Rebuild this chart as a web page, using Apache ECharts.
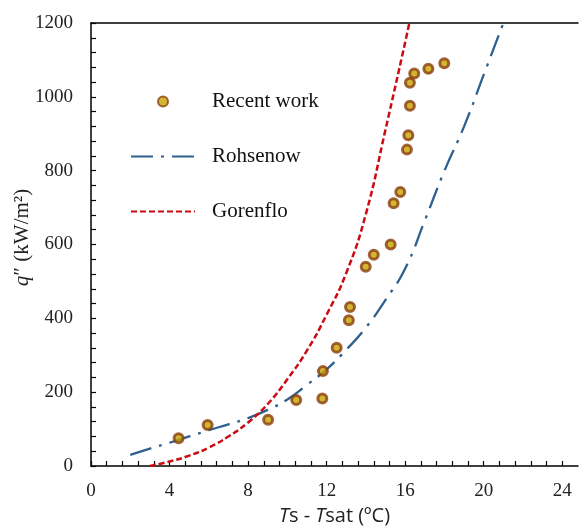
<!DOCTYPE html>
<html>
<head>
<meta charset="utf-8">
<script src="https://cdn.jsdelivr.net/npm/echarts@6/dist/echarts.min.js"></script>
<style>
html, body { margin: 0; padding: 0; background: #fff; }
#boiling-chart { width: 580px; height: 527px; }
</style>
</head>
<body>
<div id="boiling-chart"></div>
<script>
// measured points (Ts - Tsat, q'')
var recentX = [4.46, 5.94, 9.02, 10.45, 11.78, 11.81, 12.51, 13.13, 13.19, 13.99, 14.40, 15.26, 15.41, 15.75, 16.09, 16.16, 16.24, 16.24, 16.46, 17.18, 17.99];
var recentY = [75, 111, 125, 179, 183, 257, 320, 395, 431, 540, 572, 600, 712, 742, 857, 896, 976, 1038, 1063, 1076, 1091];

// correlations
var rohsenowX = [2, 3, 4, 5, 6, 7, 8, 9, 10, 11, 12, 13, 14, 15, 16, 17, 18, 19, 20, 21];
var rohsenowY = [30, 47, 63, 80, 97, 113, 130, 152, 180, 220, 262, 315, 375, 450, 535, 665, 800, 920, 1060, 1200];

var gorenfloX = [3, 4, 5, 6, 7, 8, 9, 10, 11, 12, 13, 14, 15, 16, 16.21];
var gorenfloY = [0, 12, 28, 50, 80, 118, 168, 235, 313, 410, 523, 683, 912, 1148, 1200];

var xLabelStep = 4;
var yLabelStep = 200;

function pairs(xs, ys){
	var out = [];
	xs.forEach(function(x, i){
		out.push([x, ys[i]]);
	});
	return out;
}

function onStep(v, step){
	return Math.abs(v / step - Math.round(v / step)) < 1e-6;
}

var chart = echarts.init(document.getElementById('boiling-chart'));

var serif = 'Liberation Serif';
var blue = '#2E6090';
var red = '#CC0A12';

option = {
	animation: false,
	grid: {
		left: 91,
		right: 2,
		top: 23,
		bottom: 61,
		outerBoundsMode: 'none'
	},
	legend: {
		left: 125,
		top: 86,
		orient: 'vertical',
		itemWidth: 64,
		itemHeight: 10,
		itemGap: 34,
		textStyle: {
			fontFamily: serif,
			fontSize: 21,
			color: '#111',
			padding: [0, 0, 0, 12]
		},
		data: [
			{ name: 'Recent work' },
			{ name: 'Rohsenow', itemStyle: { opacity: 0 } },
			{ name: 'Gorenflo', itemStyle: { opacity: 0 } }
		]
	},
	xAxis: [
		{
			type: 'value',
			min: 0,
			max: 24.8,
			interval: 0.8,
			splitLine: { show: false },
			axisLine: { lineStyle: { color: '#000', width: 1.5 } },
			axisTick: { inside: true, length: 5, lineStyle: { color: '#000', width: 1.2 } },
			axisLabel: {
				margin: 16,
				fontFamily: serif,
				fontSize: 19,
				color: '#222',
				showMaxLabel: false,
				formatter: function(v){
					return onStep(v, xLabelStep) ? String(Math.round(v)) : '';
				}
			},
			name: '{i|T}s - {i|T}sat (ºC)',
			nameLocation: 'middle',
			nameGap: 40,
			nameMoveOverlap: false,
			nameTextStyle: {
				fontFamily: 'Open Sans',
				fontSize: 20,
				color: '#222',
				rich: {
					i: { fontFamily: 'Open Sans', fontSize: 20, fontStyle: 'italic', color: '#222' }
				}
			}
		},
		{
			// top frame line
			type: 'value',
			position: 'top',
			min: 0,
			max: 24.8,
			splitLine: { show: false },
			axisLine: { lineStyle: { color: '#000', width: 1.5 } },
			axisTick: { show: false },
			axisLabel: { show: false }
		}
	],
	yAxis: {
		type: 'value',
		min: 0,
		max: 1200,
		interval: 40,
		splitLine: { show: false },
		axisLine: { show: true, lineStyle: { color: '#000', width: 1.5 } },
		axisTick: { show: true, inside: true, length: 5, lineStyle: { color: '#000', width: 1.2 } },
		axisLabel: {
			margin: 18,
			fontFamily: serif,
			fontSize: 19,
			color: '#222',
			formatter: function(v){
				return onStep(v, yLabelStep) ? String(Math.round(v)) : '';
			}
		},
		name: '{i|q}″ (kW/m²)',
		nameLocation: 'middle',
		nameGap: 58,
		nameMoveOverlap: false,
		nameTextStyle: {
			fontFamily: serif,
			fontSize: 21,
			color: '#222',
			padding: [0, 0, 0, 14],
			rich: {
				i: { fontFamily: serif, fontSize: 21, fontStyle: 'italic', color: '#222' }
			}
		}
	},
	series: [
		{
			name: 'Recent work',
			type: 'scatter',
			symbol: 'circle',
			symbolSize: 9,
			itemStyle: {
				color: '#C8A200',
				borderColor: '#8A3F0C',
				borderWidth: 3
			},
			z: 5,
			data: pairs(recentX, recentY)
		},
		{
			name: 'Rohsenow',
			type: 'line',
			smooth: true,
			symbol: 'none',
			lineStyle: { color: blue, width: 2.3, type: [22, 8, 3, 8] },
			itemStyle: { color: blue },
			data: pairs(rohsenowX, rohsenowY)
		},
		{
			name: 'Gorenflo',
			type: 'line',
			smooth: true,
			symbol: 'none',
			lineStyle: { color: red, width: 2.5, type: [6, 3] },
			itemStyle: { color: red },
			data: pairs(gorenfloX, gorenfloY)
		}
	]
};

chart.setOption(option);
</script>
</body>
</html>
